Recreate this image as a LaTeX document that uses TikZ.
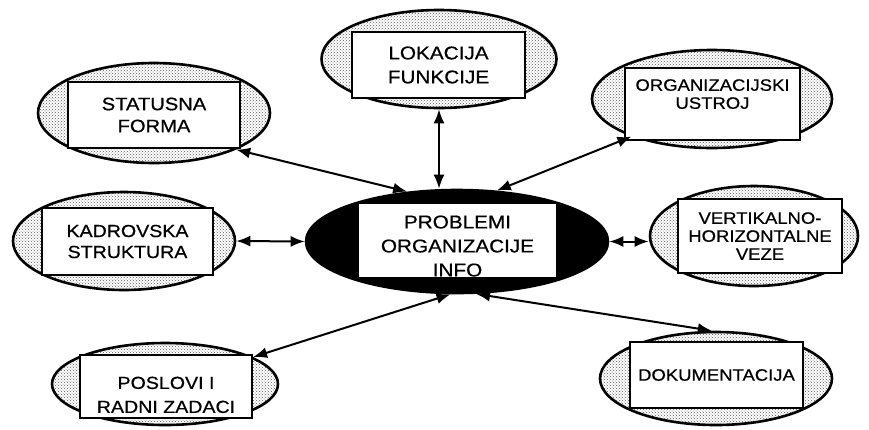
\documentclass[tikz,border=0pt]{standalone}
\usepackage{fontspec}
\setmainfont[FakeStretch=1.12,FakeBold=0.6]{Liberation Sans}
\usetikzlibrary{shapes.geometric,patterns,arrows.meta}

\begin{document}
\begin{tikzpicture}[x=1pt,y=-1pt,
        oval/.style={ellipse, draw, line width=2.6pt, pattern=crosshatch dots, pattern color=black!65, inner sep=0pt},
        box/.style={rectangle, draw, line width=2.2pt, fill=white, inner sep=0pt, align=center},
        link/.style={line width=2pt, {Latex[length=14pt,width=11pt]}-{Latex[length=14pt,width=11pt]}}]

        \useasboundingbox (0,0) rectangle (869,429);

        % Ellipses
        \node[oval, minimum width=232pt, minimum height=100pt] (statE) at (154,113) {};
        \node[oval, minimum width=235pt, minimum height=98pt] (lokE) at (439,59) {};
        \node[oval, minimum width=240pt, minimum height=98pt] (orgE) at (712,99) {};
        \node[oval, minimum width=222pt, minimum height=98pt] (kadE) at (124,241) {};
        \node[ellipse, draw, fill=black, line width=2.6pt, minimum width=302pt, minimum height=103pt] (probE) at (457,241.5) {};
        \node[oval, minimum width=208pt, minimum height=100pt] (verE) at (754,236) {};
        \node[oval, minimum width=226pt, minimum height=82pt] (posE) at (165,384) {};
        \node[oval, minimum width=232pt, minimum height=93pt] (dokE) at (716,378.5) {};

        % Boxes
        \node[box, minimum width=172pt, minimum height=66pt, font=\fontsize{18}{22}\selectfont] (stat) at (154,115) {STATUSNA\\FORMA};
        \node[box, minimum width=173pt, minimum height=66pt, font=\fontsize{18.5}{24}\selectfont] (lok) at (438.5,65) {LOKACIJA\\FUNKCIJE};
        \node[box, minimum width=175pt, minimum height=72pt, font=\fontsize{16.5}{18}\selectfont] (org) at (712.5,104) {ORGANIZACIJSKI\\USTROJ\rule[-20pt]{0pt}{20pt}};
        \node[box, minimum width=171pt, minimum height=67pt, font=\fontsize{17.5}{21}\selectfont] (kad) at (127.5,241.5) {KADROVSKA\\STRUKTURA};
        \node[box, minimum width=199pt, minimum height=75pt, font=\fontsize{18.5}{24}\selectfont] (prob) at (457.5,240.5) {\rule{0pt}{24pt}PROBLEMI\\ORGANIZACIJE\\INFO};
        \node[box, minimum width=164pt, minimum height=74pt, font=\fontsize{16.5}{18}\selectfont] (ver) at (760,236) {VERTIKALNO-\\HORIZONTALNE\\VEZE};
        \node[box, minimum width=172pt, minimum height=63pt, font=\fontsize{17.5}{24}\selectfont] (pos) at (166,386.5) {\rule{0pt}{29pt}POSLOVI I\\RADNI ZADACI};
        \node[box, minimum width=173pt, minimum height=66pt, font=\fontsize{16.5}{20}\selectfont] (dok) at (716.5,375) {DOKUMENTACIJA};

        % Arrows
        \draw[link] (statE.-24) -- (probE.135);
        \draw[link] (lokE.south) -- (lokE.south |- probE.north);
        \draw[link] (orgE.205) -- (probE.52);
        \draw[link] (kadE.east) -- (probE.west);
        \draw[link] (probE.east) -- (probE.east -| verE.west);
        \draw[link] (posE.17) -- (probE.263);
        \draw[link] (probE.290) -- (dokE.95);

\end{tikzpicture}
\end{document}
